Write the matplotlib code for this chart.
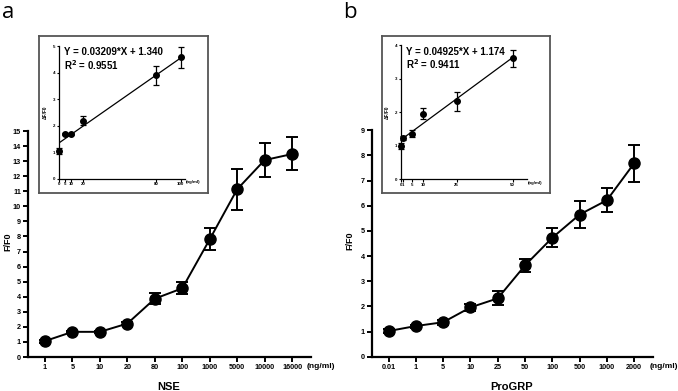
import matplotlib
matplotlib.use("Agg")
import matplotlib.pyplot as plt
import numpy as np

plt.rcParams['font.family'] = ['Liberation Sans', 'DejaVu Sans']
plt.rcParams['font.weight'] = 'bold'

# ---------------- data ----------------
nse_labels = ["1", "5", "10", "20", "80", "100", "1000", "5000", "10000", "16000"]
nse_y = [1.06, 1.67, 1.67, 2.22, 3.87, 4.56, 7.81, 11.13, 13.07, 13.47]
nse_lo = [0.10, 0.08, 0.08, 0.12, 0.35, 0.38, 0.71, 1.38, 1.10, 1.07]
nse_hi = [0.10, 0.08, 0.08, 0.12, 0.35, 0.40, 0.73, 1.34, 1.13, 1.13]

pro_labels = ["0.01", "1", "5", "10", "25", "50", "100", "500", "1000", "2000"]
pro_y = [1.02, 1.22, 1.37, 1.96, 2.32, 3.63, 4.73, 5.65, 6.22, 7.69]
pro_lo = [0.08, 0.06, 0.10, 0.15, 0.26, 0.25, 0.38, 0.52, 0.48, 0.73]
pro_hi = [0.08, 0.06, 0.10, 0.15, 0.29, 0.25, 0.37, 0.53, 0.48, 0.73]

ins_a_x = [0, 5, 10, 20, 80, 100]
ins_a_labels = ["0", "5", "10", "20", "80", "100"]
ins_a_y = [1.04, 1.67, 1.67, 2.19, 3.91, 4.57]
ins_a_lo = [0.12, 0.04, 0.04, 0.15, 0.38, 0.41]
ins_a_hi = [0.12, 0.04, 0.04, 0.18, 0.35, 0.38]
ins_a_slope, ins_a_icpt = 0.03209, 1.340
ins_a_fit_x = [0, 100]

ins_b_x = [0.01, 1, 5, 10, 25, 50]
ins_b_labels = ["0", "1", "5", "10", "25", "50"]
ins_b_y = [0.99, 1.23, 1.36, 1.96, 2.33, 3.62]
ins_b_lo = [0.10, 0.05, 0.10, 0.17, 0.29, 0.27]
ins_b_hi = [0.10, 0.05, 0.10, 0.18, 0.27, 0.25]
ins_b_slope, ins_b_icpt = 0.04925, 1.174
ins_b_fit_x = [0, 50]

W, H = 678, 391
fig = plt.figure(figsize=(W / 100, H / 100), dpi=100)


def px(l, b, r, t):
    return [l / W, 1 - b / H, (r - l) / W, (b - t) / H]


def main_panel(rect, labels, y, lo, hi, ymax, name, ng_x, ylab_off):
    ax = fig.add_axes(rect)
    x = np.arange(len(labels))
    ax.errorbar(x, y, yerr=[lo, hi], fmt='-o', color='black', lw=1.4,
                ms=8, elinewidth=1.4, capsize=4.5, capthick=1.4, zorder=3)
    ax.set_xlim(-0.62, len(labels) - 1 + 0.69)
    ax.set_ylim(0, ymax)
    ax.set_yticks(range(0, ymax + 1))
    ax.set_xticks(x)
    ax.set_xticklabels(labels)
    for s in ['top', 'right']:
        ax.spines[s].set_visible(False)
    for s in ['left', 'bottom']:
        ax.spines[s].set_linewidth(1.6)
    ax.tick_params(axis='both', width=1.4, length=3.5, labelsize=5.2, pad=1.5)
    for t in ax.get_xticklabels() + ax.get_yticklabels():
        t.set_fontweight('bold')
    ax.annotate('(ng/ml)', xy=(ng_x, 0), xycoords='axes fraction',
                xytext=(0, -7), textcoords='offset points',
                ha='left', va='center', fontsize=6, fontweight='bold')
    ax.annotate(name, xy=(0.497, 0), xycoords='axes fraction',
                xytext=(0, -21.5), textcoords='offset points',
                ha='center', va='center', fontsize=8, fontweight='bold')
    ax.annotate('F/F0', xy=(0, 0.51), xycoords='axes fraction',
                xytext=(ylab_off, 0), textcoords='offset points',
                ha='center', va='center', rotation=90,
                fontsize=6.5, fontweight='bold')
    return ax


def inset(box_rect, ax_rect, xs, xlabels, y, lo, hi, ymax, xmax,
          slope, icpt, fit_x, eq_text, r2_text, tx):
    box = fig.add_axes(box_rect)
    box.set_xticks([])
    box.set_yticks([])
    box.patch.set_facecolor('white')
    for s in box.spines.values():
        s.set_linewidth(1.3)
        s.set_color('#555555')
    ax = fig.add_axes(ax_rect)
    ax.patch.set_alpha(0)
    fx = np.array(fit_x, dtype=float)
    ax.plot(fx, slope * fx + icpt, color='black', lw=0.9, zorder=2)
    ax.errorbar(xs, y, yerr=[lo, hi], fmt='o', color='black', ms=4,
                elinewidth=0.9, capsize=2.5, capthick=0.9, zorder=3,
                clip_on=False)
    ax.set_xlim(0, xmax)
    ax.set_ylim(0, ymax)
    ax.set_yticks(range(0, ymax + 1))
    ax.set_xticks(xs)
    ax.set_xticklabels(xlabels)
    for s in ['top', 'right']:
        ax.spines[s].set_visible(False)
    for s in ['left', 'bottom']:
        ax.spines[s].set_linewidth(0.9)
    ax.tick_params(axis='both', width=0.8, length=1.8, labelsize=3.2, pad=0.8)
    for t in ax.get_xticklabels() + ax.get_yticklabels():
        t.set_fontweight('bold')
    ax.annotate('(ng/ml)', xy=(1.01, 0), xycoords='axes fraction',
                xytext=(0, -2.6), textcoords='offset points',
                ha='left', va='center', fontsize=3.2, fontweight='bold')
    ax.annotate('ΔF/F0', xy=(0, 0.5), xycoords='axes fraction',
                xytext=(-9.5, 0), textcoords='offset points',
                ha='center', va='center', rotation=90,
                fontsize=3.4, fontweight='bold')
    ax.text(tx, 0.952, eq_text, transform=ax.transAxes, ha='left',
            va='center', fontsize=7, fontweight='bold')
    ax.text(tx, 0.857, r2_text, transform=ax.transAxes, ha='left',
            va='center', fontsize=7, fontweight='bold')
    return ax


main_panel(px(28, 357, 311, 131), nse_labels, nse_y, nse_lo, nse_hi, 15,
           'NSE', 0.985, -14.5)
main_panel(px(371.7, 356.7, 653, 130.3), pro_labels, pro_y, pro_lo, pro_hi, 9,
           'ProGRP', 0.989, -16)

inset(px(39, 193.3, 208, 36), px(58.7, 178.7, 184.7, 46),
      ins_a_x, ins_a_labels, ins_a_y, ins_a_lo, ins_a_hi, 5, 103.3,
      ins_a_slope, ins_a_icpt, ins_a_fit_x,
      'Y = 0.03209*X + 1.340', 'R$^{2}$ = 0.9551', 0.042)
inset(px(381.5, 192.5, 550, 36), px(400.7, 179.3, 526.7, 45.3),
      ins_b_x, ins_b_labels, ins_b_y, ins_b_lo, ins_b_hi, 4, 56.25,
      ins_b_slope, ins_b_icpt, ins_b_fit_x,
      'Y = 0.04925*X + 1.174', 'R$^{2}$ = 0.9411', 0.04)

fig.text(2 / W, 1 - 12 / H, 'a', fontsize=16, fontweight='normal',
         family='Open Sans', ha='left', va='center')
fig.text(343 / W, 1 - 12 / H, 'b', fontsize=16, fontweight='normal',
         family='Open Sans', ha='left', va='center')

fig.savefig('out.png', dpi=100)
